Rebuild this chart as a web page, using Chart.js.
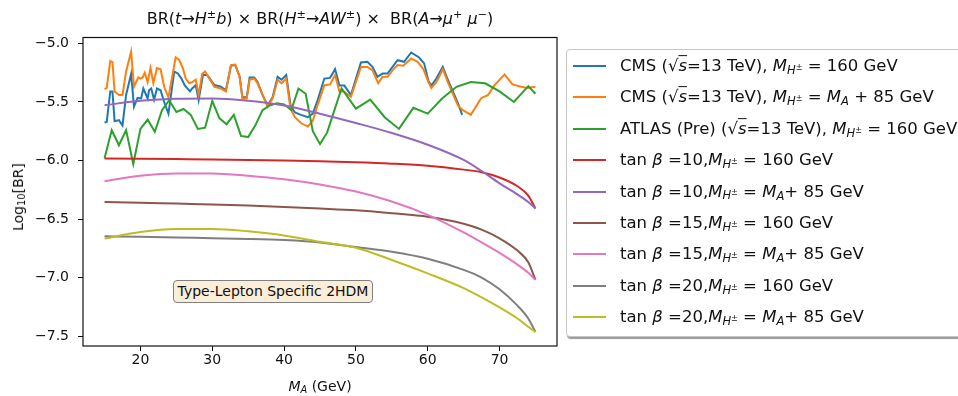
<!DOCTYPE html>
<html>
<head>
<meta charset="utf-8">
<script src="https://cdn.jsdelivr.net/npm/chart.js@4"></script>
<style>
  html, body { margin:0; padding:0; background:#fff; }
  body { width:958px; height:396px; overflow:hidden; position:relative; font-family:"DejaVu Sans", sans-serif; color:#111; }
  #c { position:absolute; left:0; top:0; }
  .ov { position:absolute; white-space:nowrap; }
  sup, sub { font-size:70%; line-height:0; }
  sup { vertical-align:0.5em; }
  sub { vertical-align:-0.25em; }
  .over { text-decoration:overline; }
  #title { left:320px; top:18px; transform:translate(-50%,-50%); font-size:16px; }
  #ylab { left:18px; top:197px; transform:translate(-50%,-50%) rotate(-90deg); font-size:14px; }
  #xlab { left:320px; top:386px; transform:translate(-50%,-50%); font-size:14px; }
  #note { left:173px; top:280px; width:198px; height:21px; background:#faeed9; border:1px solid #808080; border-radius:4px;
          font-size:14px; line-height:21px; text-align:center; }
  #legend { position:absolute; left:566px; top:49px; width:430px; height:286px; background:#fff;
            border:1px solid #c8c8c8; border-radius:4px; box-shadow:1px 2px 1px #9a9a9a; }
  .row { position:absolute; left:0; height:0; }
  .hnd { position:absolute; left:6px; width:33px; height:2px; top:-1px; }
  .lbl { position:absolute; left:53px; top:0; transform:translateY(-52%); font-size:16.5px; white-space:nowrap; }
</style>
</head>
<body>
<canvas id="c" width="958" height="396"></canvas>
<div class="ov" id="title">BR(<i>t</i>→<i>H</i><sup>±</sup><i>b</i>) × BR(<i>H</i><sup>±</sup>→<i>AW</i><sup>±</sup>) × &nbsp;BR(<i>A</i>→<i>μ</i><sup>+</sup> <i>μ</i><sup>−</sup>)</div>
<div class="ov" id="ylab">Log<sub>10</sub>[BR]</div>
<div class="ov" id="xlab"><i>M<sub>A</sub></i> (GeV)</div>
<div class="ov" id="note">Type-Lepton Specific 2HDM</div>
<div id="legend"></div>
<script>
// ---------------- data ----------------
// CMS (sqrt s = 13 TeV), M_H± = 160 GeV
const cms160MA = [15.0,15.3,15.8,16.1,16.4,17.0,17.5,18.0,18.7,19.1,19.6,20.1,20.4,21.0,21.2,21.5,21.9,22.3,22.8,23.3,23.9,24.7,25.2,25.7,26.2,26.9,27.2,27.7,28.1,28.7,29.3,30.3,31.2,31.9,32.6,33.2,33.8,34.2,34.8,35.2,35.85,36.3,37.0,37.7,38.4,39.1,39.65,40.3,40.9,41.5,42.35,43.3,44.0,44.7,45.6,46.4,47.1,47.7,48.4,49.3,50.7,51.6,52.3,53.0,53.7,54.4,55.1,55.8,56.7,57.7,58.8,59.5,60.1,60.5,61.2,62.1,62.8,63.5,64.2,64.8];
const cms160BR = [-5.675,-5.67,-5.41,-5.41,-5.665,-5.655,-5.70,-5.44,-5.26,-5.54,-5.465,-5.47,-5.385,-5.47,-5.40,-5.385,-5.48,-5.385,-5.40,-5.50,-5.60,-5.24,-5.256,-5.30,-5.36,-5.41,-5.385,-5.356,-5.485,-5.27,-5.27,-5.355,-5.37,-5.40,-5.19,-5.185,-5.28,-5.46,-5.46,-5.29,-5.29,-5.33,-5.44,-5.53,-5.46,-5.285,-5.31,-5.27,-5.53,-5.59,-5.61,-5.63,-5.60,-5.48,-5.30,-5.294,-5.22,-5.36,-5.36,-5.44,-5.163,-5.157,-5.20,-5.285,-5.257,-5.257,-5.20,-5.143,-5.157,-5.077,-5.12,-5.17,-5.32,-5.36,-5.30,-5.20,-5.31,-5.41,-5.51,-5.61];

// CMS (sqrt s = 13 TeV), M_H± = M_A + 85 GeV
const cms85MA = [15.0,15.3,15.8,16.1,16.4,17.0,17.5,18.0,18.7,19.1,19.7,20.0,20.3,20.6,21.0,21.4,21.8,22.3,22.8,23.3,23.9,24.9,25.4,25.9,26.3,26.8,27.2,27.7,28.1,28.6,29.0,29.4,30.3,31.2,31.9,32.6,33.2,33.8,34.2,34.8,35.2,35.85,36.3,37.0,37.7,38.4,39.1,39.65,40.3,40.9,41.5,42.35,43.3,44.0,44.7,45.6,46.4,47.1,47.7,48.3,49.3,50.7,51.6,52.3,53.1,53.7,54.4,55.1,55.8,56.6,57.7,58.6,59.4,60.1,60.5,61.2,62.1,62.8,63.5,64.2,64.9,66.0,66.7,67.4,68.4,69.3,70.7,71.8,73.0,73.9,75.0];
const cms85BR = [-5.39,-5.38,-5.15,-5.16,-5.41,-5.44,-5.44,-5.24,-5.07,-5.37,-5.29,-5.30,-5.29,-5.25,-5.33,-5.21,-5.34,-5.21,-5.22,-5.37,-5.46,-5.12,-5.14,-5.21,-5.30,-5.34,-5.33,-5.31,-5.44,-5.26,-5.24,-5.28,-5.37,-5.385,-5.41,-5.185,-5.18,-5.285,-5.47,-5.47,-5.31,-5.30,-5.34,-5.44,-5.54,-5.47,-5.31,-5.34,-5.30,-5.56,-5.63,-5.68,-5.71,-5.66,-5.52,-5.356,-5.35,-5.27,-5.41,-5.41,-5.456,-5.20,-5.20,-5.228,-5.34,-5.285,-5.285,-5.23,-5.185,-5.19,-5.128,-5.157,-5.22,-5.33,-5.38,-5.33,-5.22,-5.33,-5.43,-5.53,-5.57,-5.61,-5.54,-5.47,-5.44,-5.356,-5.265,-5.35,-5.37,-5.38,-5.37];

// ATLAS (Pre) (sqrt s = 13 TeV), M_H± = 160 GeV
const atlasMA = [15,16,17,18,19,20,21,22,23,24,25,26,27,28,29,30,31,32,33,34,35,36,37,38,39,40,41,42,43,44,45,46,48,50,52,54,56,58,60,62,64,66,68,70,72,74,75];
const atlasBR = [-5.98,-5.74,-5.87,-5.74,-6.03,-5.73,-5.65,-5.755,-5.57,-5.485,-5.585,-5.56,-5.61,-5.73,-5.72,-5.49,-5.64,-5.69,-5.61,-5.79,-5.80,-5.70,-5.57,-5.53,-5.51,-5.52,-5.57,-5.385,-5.43,-5.75,-5.86,-5.76,-5.385,-5.556,-5.48,-5.63,-5.73,-5.55,-5.60,-5.47,-5.37,-5.33,-5.34,-5.41,-5.50,-5.365,-5.43];

// Type-Lepton Specific 2HDM predictions
const theoryMA  = [15,20,25,30,35,40,45,50,55,60,65,67.5,70,72.5,74,75];
const tb10_160  = [-5.982,-5.985,-5.988,-5.991,-5.995,-6.0,-6.007,-6.015,-6.027,-6.045,-6.078,-6.10,-6.145,-6.22,-6.30,-6.41];
const tb10_MA85 = [-5.527,-5.49,-5.472,-5.47,-5.49,-5.53,-5.60,-5.68,-5.765,-5.865,-5.995,-6.09,-6.195,-6.29,-6.355,-6.41];
const tb15_160  = [-6.354,-6.36,-6.368,-6.375,-6.385,-6.397,-6.41,-6.425,-6.45,-6.48,-6.54,-6.59,-6.665,-6.77,-6.87,-7.02];
const tb15_MA85 = [-6.177,-6.13,-6.11,-6.11,-6.13,-6.16,-6.205,-6.265,-6.35,-6.465,-6.615,-6.70,-6.79,-6.89,-6.96,-7.02];
const tb20_160  = [-6.647,-6.652,-6.658,-6.664,-6.67,-6.68,-6.70,-6.74,-6.78,-6.84,-6.935,-7.0,-7.10,-7.24,-7.35,-7.465];
const tb20_MA85 = [-6.667,-6.61,-6.585,-6.585,-6.605,-6.64,-6.695,-6.745,-6.85,-6.965,-7.09,-7.17,-7.255,-7.35,-7.42,-7.465];

const xTickValues = [20,30,40,50,60,70];
const yTickValues = [-7.5,-7.0,-6.5,-6.0,-5.5,-5.0];

const MH = '<i>M</i><sub><i>H</i><sup>±</sup></sub>';
const MAt = '<i>M</i><sub><i>A</i></sub>';
const SQ = '(√<span class="over"><i>s</i></span>=13 TeV)';
const legendLabels = [
  'CMS ' + SQ + ', ' + MH + ' = 160 GeV',
  'CMS ' + SQ + ', ' + MH + ' = ' + MAt + ' + 85 GeV',
  'ATLAS (Pre) ' + SQ + ', ' + MH + ' = 160 GeV',
  'tan <i>β</i> =10,' + MH + ' = 160 GeV',
  'tan <i>β</i> =10,' + MH + ' = ' + MAt + '+ 85 GeV',
  'tan <i>β</i> =15,' + MH + ' = 160 GeV',
  'tan <i>β</i> =15,' + MH + ' = ' + MAt + '+ 85 GeV',
  'tan <i>β</i> =20,' + MH + ' = 160 GeV',
  'tan <i>β</i> =20,' + MH + ' = ' + MAt + '+ 85 GeV'
];
const seriesColors = ['#1f77b4','#ff7f0e','#2ca02c','#d62728','#9467bd','#8c564b','#e377c2','#7f7f7f','#bcbd22'];

// ---------------- build chart ----------------
const pts = (xs, ys) => xs.map((x, i) => ({x: x, y: ys[i]}));
const seriesData = [
  pts(cms160MA, cms160BR), pts(cms85MA, cms85BR), pts(atlasMA, atlasBR),
  pts(theoryMA, tb10_160), pts(theoryMA, tb10_MA85), pts(theoryMA, tb15_160),
  pts(theoryMA, tb15_MA85), pts(theoryMA, tb20_160), pts(theoryMA, tb20_MA85)
];
const datasets = seriesData.map((d, i) => ({
  data: d,
  showLine: true,
  borderColor: seriesColors[i],
  backgroundColor: seriesColors[i],
  borderWidth: 2,
  pointRadius: 0,
  fill: false,
  tension: 0,
  cubicInterpolationMode: i >= 3 ? 'monotone' : 'default',
  order: 20 - i
}));

const fmt = v => (v < 0 ? '\u2212' : '') + Math.abs(v).toFixed(1);

const frame = {
  id: 'frame',
  afterDatasetsDraw(chart) {
    const a = chart.chartArea, ctx = chart.ctx;
    ctx.save();
    ctx.strokeStyle = '#111';
    ctx.lineWidth = 1.2;
    ctx.strokeRect(a.left, a.top, a.right - a.left, a.bottom - a.top);
    ctx.restore();
  }
};

new Chart(document.getElementById('c'), {
  type: 'scatter',
  data: { datasets: datasets },
  plugins: [frame],
  options: {
    responsive: false,
    animation: false,
    layout: { padding: { left: 0, right: 401, top: 37.5, bottom: 0 } },
    plugins: { legend: { display: false }, tooltip: { enabled: false }, title: { display: false } },
    scales: {
      x: {
        type: 'linear', min: 12, max: 78,
        afterBuildTicks: s => { s.ticks = xTickValues.map(v => ({value: v})); },
        afterFit: s => { s.height = 50; },
        grid: { drawOnChartArea: false, drawTicks: true, tickLength: 5, color: '#111', lineWidth: 1 },
        border: { display: false },
        ticks: { font: { family: 'DejaVu Sans', size: 14 }, color: '#111', padding: 1, maxRotation: 0,
                 callback: v => String(v) }
      },
      y: {
        type: 'linear', min: -7.585, max: -4.949,
        afterBuildTicks: s => { s.ticks = yTickValues.map(v => ({value: v})); },
        afterFit: s => { s.width = 83; },
        grid: { drawOnChartArea: false, drawTicks: true, tickLength: 5, color: '#111', lineWidth: 1 },
        border: { display: false },
        ticks: { font: { family: 'DejaVu Sans', size: 14 }, color: '#111', padding: 9,
                 callback: v => fmt(v) }
      }
    }
  }
});

// legend (HTML, real text)
const lg = document.getElementById('legend');
legendLabels.forEach((t, i) => {
  const r = document.createElement('div');
  r.className = 'row';
  r.style.top = (16 + i * 31.4) + 'px';
  r.innerHTML = '<div class="hnd" style="background:' + seriesColors[i] + '"></div><div class="lbl">' + t + '</div>';
  lg.appendChild(r);
});
</script>
</body>
</html>
